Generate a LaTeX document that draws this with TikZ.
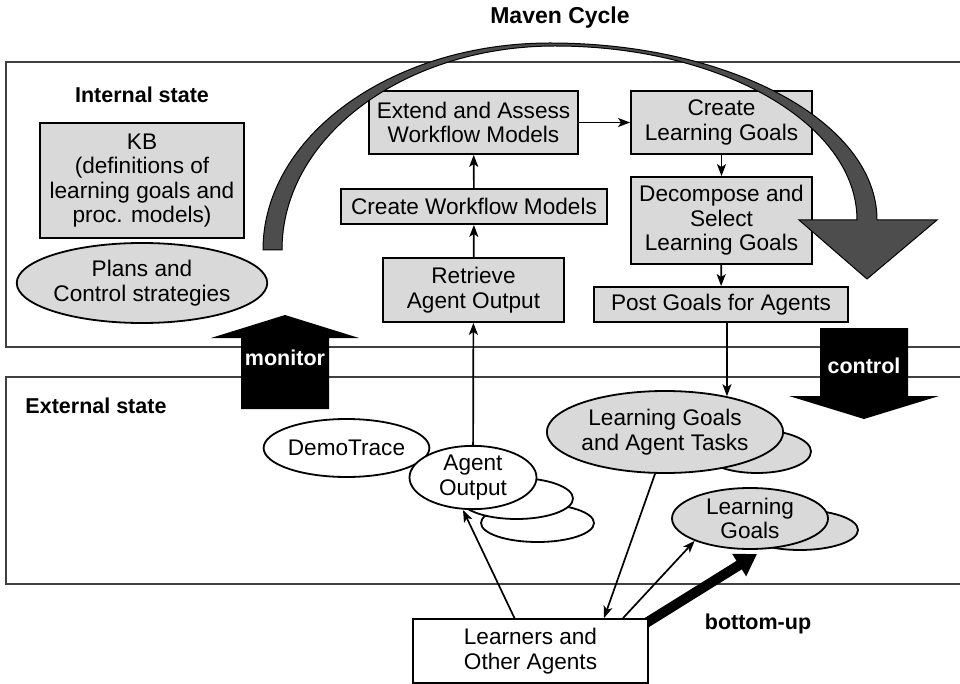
\documentclass[tikz,border=0pt]{standalone}
\usepackage{fontspec}
\setmainfont{Liberation Sans}
\usetikzlibrary{shapes.geometric,arrows.meta}
\definecolor{boxgray}{HTML}{D9D9D9}
\definecolor{bandgray}{HTML}{4D4D4D}
\definecolor{framegray}{HTML}{404040}
\pgfdeclarelayer{frames}
\pgfdeclarelayer{push}
\pgfsetlayers{frames,push,main}
\begin{document}
\begin{tikzpicture}[x=1pt,y=-1pt,
  every node/.style={font=\fontsize{22.6}{24.5}\selectfont, align=center, inner sep=0pt},
  procbox/.style={rectangle, draw, line width=1.8pt, fill=boxgray},
  agentbox/.style={rectangle, draw, line width=1.8pt, fill=white},
  blob/.style={ellipse, draw, line width=1.8pt, fill=boxgray},
  whiteblob/.style={ellipse, draw, line width=1.8pt, fill=white},
  frameline/.style={draw=framegray, line width=1.8pt},
  heading/.style={font=\fontsize{21.5}{24.5}\selectfont\bfseries},
  flow/.style={line width=1.7pt, -{Stealth[length=12pt,width=9pt,inset=3pt]}},
  bigblack/.style={fill=black},
  band/.style={fill=bandgray, draw=black, line width=1pt}
]
\useasboundingbox (0,0) rectangle (960,684);

% title
\node[heading, font=\fontsize{23}{26}\selectfont\bfseries] (title) at (560,18) {Maven Cycle};

% frames for the two state regions (open on the right)
\begin{pgfonlayer}{frames}
\draw[frameline] (960,62) -- (6,62) -- (6,347) -- (960,347);
\draw[frameline] (960,377) -- (6,377) -- (6,584) -- (960,584);
\end{pgfonlayer}

% monitor / control block arrows
\fill[bigblack] (241,409) -- (329,409) -- (329,338) -- (359,338) -- (285,315) -- (211,338) -- (241,338) -- cycle;
\node[heading, text=white] (monitor) at (285,358) {monitor};
\fill[bigblack] (820,328) -- (908,328) -- (908,396) -- (939,396) -- (864,419) -- (789,396) -- (820,396) -- cycle;
\node[heading, text=white] (control) at (864,366) {control};

% internal state
\node[heading] (internal) at (142,95) {Internal state};
\node[procbox, minimum width=204pt, minimum height=115pt] (kb) at (142,180.5)
  {KB\\(definitions of\\learning goals and\\proc. models)};
\node[blob, minimum width=206pt, minimum height=80pt] (plans) at (142,283)
  {Plans and\\Control strategies};

\node[procbox, minimum width=209pt, minimum height=63pt] (ext) at (473.5,122.5)
  {Extend and Assess\\Workflow Models};
\node[procbox, minimum width=266pt, minimum height=35pt] (cwm) at (474,206.5)
  {Create Workflow Models};
\node[procbox, minimum width=181pt, minimum height=64pt] (retr) at (473.5,290)
  {Retrieve\\Agent Output};
\node[procbox, minimum width=181pt, minimum height=63pt] (clg) at (721.5,122.5)
  {Create\\Learning Goals};
\node[procbox, minimum width=181pt, minimum height=87pt] (dec) at (721.5,220.5)
  {Decompose and\\Select\\Learning Goals};
\node[procbox, minimum width=254pt, minimum height=35pt] (post) at (721,304.5)
  {Post Goals for Agents};

\draw[flow] (retr) -- (cwm);
\draw[flow] (cwm) -- (ext);
\draw[flow] (ext) -- (clg);
\draw[flow] (clg) -- (dec);
\draw[flow] (dec) -- (post);

% the Maven cycle sweep
\path[band] (263,250) .. controls (263,136) and (392,43) .. (550,43)
  .. controls (730,43) and (877,122) .. (877,220)
  -- (937,220) -- (867,279) -- (799,220) -- (857,220)
  .. controls (857,124) and (722,46) .. (555,46)
  .. controls (404,46) and (282,137) .. (282,250) -- cycle;

% external state
\node[heading] (external) at (96,406) {External state};
\node[whiteblob, minimum width=165pt, minimum height=58pt] (demo) at (346.5,448) {DemoTrace};
\node[whiteblob, minimum width=113pt, minimum height=38pt] (aoback) at (537.5,523) {};
\node[whiteblob, minimum width=113pt, minimum height=41pt] (aomid) at (516.5,498.5) {};
\node[whiteblob, minimum width=127pt, minimum height=61pt] (ao) at (473,477.5) {Agent\\Output};

\node[blob, minimum width=108pt, minimum height=43pt] (lgatback) at (757,451.5) {};
\node[blob, minimum width=206pt, minimum height=82pt] (lgat) at (665,432)
  {Learning Goals\\and Agent Tasks};
\node[blob, minimum width=116pt, minimum height=40pt] (lgback) at (800,530) {};
\node[blob, minimum width=156pt, minimum height=61pt] (lg) at (750,518.5)
  {Learning\\Goals};

\node[agentbox, minimum width=235pt, minimum height=64pt] (learn) at (530.5,651)
  {Learners and\\Other Agents};

% bottom-up push from the agents
\coordinate (butip) at (757,554);
\begin{pgfonlayer}{push}
\draw[line width=10pt, -{Triangle[length=21pt,width=25pt]}]
  ([xshift=-3pt,yshift=-5pt]learn.north east) -- (butip);
\end{pgfonlayer}
\node[heading] (bottomup) at (758,624) {bottom-up};

\draw[flow] (ao) -- (retr);
\draw[flow] (lgat.30 |- post.south) -- (lgat.30);
\draw[flow] ([xshift=-16pt]learn.north) -- ([xshift=-10pt]ao.south);
\draw[flow] ([xshift=-10pt]lgat.south) -- ([xshift=73.5pt]learn.north);
\draw[flow] ([xshift=92.5pt]learn.north) -- (lg.202);
\end{tikzpicture}
\end{document}
